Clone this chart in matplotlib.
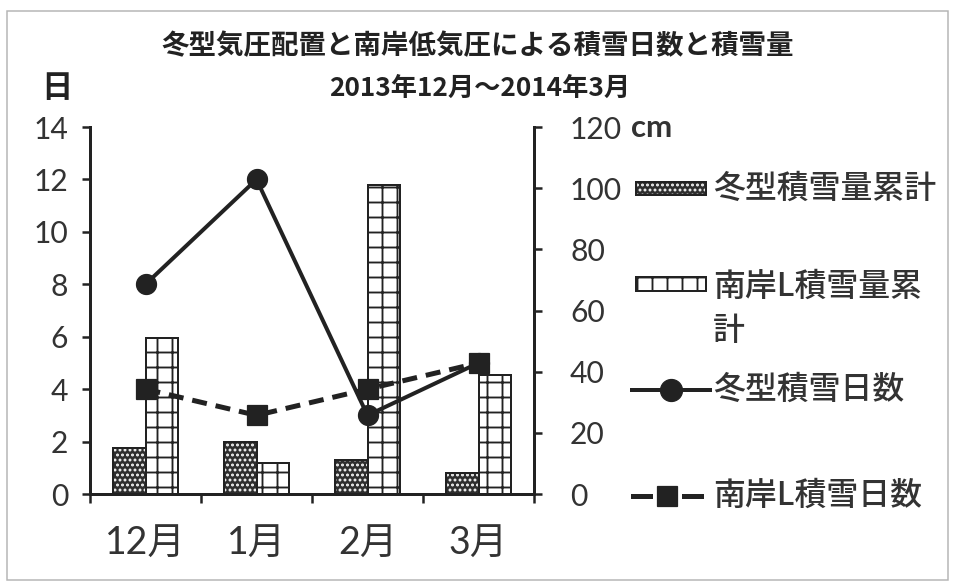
import matplotlib
matplotlib.use("Agg")
import matplotlib.pyplot as plt
from matplotlib.patches import Rectangle
from matplotlib.lines import Line2D

# ---------------- data ----------------
months = ["12月", "1月", "2月", "3月"]
winter_snow_cm = [15, 17, 11, 7]        # 冬型積雪量累計 (cm, right axis)
south_snow_cm = [51, 10, 101, 39]       # 南岸L積雪量累計 (cm, right axis)
winter_days = [8, 12, 3, 5]             # 冬型積雪日数 (days, left axis)
south_days = [4, 3, 4, 5]               # 南岸L積雪日数 (days, left axis)
left_ticks = [0, 2, 4, 6, 8, 10, 12, 14]
right_ticks = [0, 20, 40, 60, 80, 100, 120]

title = "冬型気圧配置と南岸低気圧による積雪日数と積雪量"
subtitle = "2013年12月～2014年3月"
labels = ["冬型積雪量累計", "南岸L積雪量累\n計", "冬型積雪日数", "南岸L積雪日数"]

# ---------------- style ----------------
DPI = 90
W, H = 959, 587
plt.rcParams["font.family"] = ["Lato", "Noto Sans CJK JP", "DejaVu Sans"]
plt.rcParams["hatch.linewidth"] = 1.5
CJK = ["Noto Sans CJK JP", "DejaVu Sans"]
TXT = "#333333"
LINE = "#222222"
DOTFACE = "#2e2e2e"

def px(p):  # pixels -> points
    return p * 72.0 / DPI

def fx(x):
    return x / W

def fy(y):
    return 1 - y / H

fig = plt.figure(figsize=(W / DPI, H / DPI), dpi=DPI)
fig.patch.set_facecolor("white")

# outer light border
fig.add_artist(Rectangle((fx(7), fy(580)), fx(948) - fx(7), fy(11) - fy(580),
                         transform=fig.transFigure, fill=False,
                         edgecolor="#b5b5b5", linewidth=1.2))

ax = fig.add_axes([fx(90), fy(494), fx(534) - fx(90), fy(127) - fy(494)])
ax2 = ax.twinx()
ax.set_zorder(ax2.get_zorder() + 1)
ax.patch.set_visible(False)

x = list(range(len(months)))
bw = 0.29

# bars (right axis, cm)
ax2.bar([i - bw / 2 for i in x], winter_snow_cm, width=bw,
        facecolor=DOTFACE, edgecolor="white", hatch="...", linewidth=0)
ax2.bar([i - bw / 2 for i in x], winter_snow_cm, width=bw,
        fill=False, edgecolor=LINE, linewidth=px(2))
ax2.bar([i + bw / 2 for i in x], south_snow_cm, width=bw,
        facecolor="white", edgecolor=LINE, hatch="+", linewidth=px(2))

# lines (left axis, days)
ax.plot(x, winter_days, color=LINE, lw=px(4), marker="o", ms=px(20),
        zorder=3)
ax.plot(x, south_days, color=LINE, lw=px(5), marker="s", ms=px(20),
        dashes=(3.0, 1.8), zorder=4)

ax.set_xlim(-0.5, 3.5)
ax.set_ylim(0, 14)
ax2.set_ylim(0, 120)
ax.set_yticks(left_ticks)
ax2.set_yticks(right_ticks)

for a in (ax, ax2):
    for s in a.spines.values():
        s.set_visible(False)
ax.spines["left"].set_visible(True)
ax.spines["bottom"].set_visible(True)
ax2.spines["right"].set_visible(True)
for s in (ax.spines["left"], ax.spines["bottom"], ax2.spines["right"]):
    s.set_linewidth(px(3))
    s.set_color(LINE)

ax.tick_params(axis="y", direction="out", length=px(8), width=px(2.5),
               color=LINE, labelsize=24, labelcolor=TXT, pad=px(14))
ax2.tick_params(axis="y", direction="out", length=px(8), width=px(2.5),
                color=LINE, labelsize=24, labelcolor=TXT, pad=px(28))

# category axis: ticks at boundaries, labels at centres
ax.set_xticks([-0.5, 0.5, 1.5, 2.5, 3.5])
ax.set_xticklabels([])
ax.set_xticks(x, minor=True)
ax.set_xticklabels(months, minor=True)
ax.tick_params(axis="x", which="major", direction="out", length=px(9),
               width=px(2.5), color=LINE)
ax.tick_params(axis="x", which="minor", length=0, labelsize=30,
               labelcolor=TXT, pad=px(32))

# titles and unit labels
fig.text(fx(478), fy(46), title, ha="center", va="center", fontsize=22,
         fontweight="bold", color=LINE, family=CJK)
fig.text(fx(480), fy(88), subtitle, ha="center", va="center", fontsize=21,
         fontweight="bold", color=LINE, family=CJK)
fig.text(fx(57), fy(88), "日", ha="center", va="center", fontsize=25,
         fontweight="bold", color=LINE, family=CJK)
fig.text(fx(631), fy(128), "cm", ha="left", va="center", fontsize=25,
         fontweight="bold", color=TXT, family=["Lato", "DejaVu Sans"])

# ---------------- legend (manual) ----------------
tx = fx(713)
lfs = 25.5
lw_txt = "medium"
# entry 1: winter bars
fig.add_artist(Rectangle((fx(636), fy(195)), fx(70), fy(182) - fy(195),
                         transform=fig.transFigure, facecolor=DOTFACE,
                         edgecolor="white", hatch="...", linewidth=0))
fig.add_artist(Rectangle((fx(636), fy(195)), fx(70), fy(182) - fy(195),
                         transform=fig.transFigure, fill=False,
                         edgecolor=LINE, linewidth=px(2)))
fig.text(tx, fy(189), labels[0], ha="left", va="center", fontsize=lfs,
         color=TXT, family=CJK, fontweight=lw_txt)
# entry 2: south bars
fig.add_artist(Rectangle((fx(636), fy(291)), fx(70), fy(277) - fy(291),
                         transform=fig.transFigure, facecolor="white",
                         edgecolor=LINE, hatch="+", linewidth=px(2)))
fig.text(tx, fy(309), labels[1], ha="left", va="center", fontsize=lfs,
         color=TXT, family=CJK, linespacing=1.5, fontweight=lw_txt)
# entry 3: winter days line
fig.add_artist(Line2D([fx(632), fx(710)], [fy(390), fy(390)],
                      transform=fig.transFigure, color=LINE, lw=px(4)))
fig.add_artist(Line2D([fx(671)], [fy(390)], transform=fig.transFigure,
                      color=LINE, marker="o", ms=px(22), lw=0))
fig.text(tx, fy(390), labels[2], ha="left", va="center", fontsize=lfs,
         color=TXT, family=CJK, fontweight=lw_txt)
# entry 4: south days dashed line
fig.add_artist(Line2D([fx(633), fx(650)], [fy(496), fy(496)],
                      transform=fig.transFigure, color=LINE, lw=px(5)))
fig.add_artist(Line2D([fx(684), fx(701)], [fy(496), fy(496)],
                      transform=fig.transFigure, color=LINE, lw=px(5)))
fig.add_artist(Line2D([fx(667)], [fy(496)], transform=fig.transFigure,
                      color=LINE, marker="s", ms=px(20), lw=0))
fig.text(tx, fy(496), labels[3], ha="left", va="center", fontsize=lfs,
         color=TXT, family=CJK, fontweight=lw_txt)

fig.savefig("out.png", dpi=DPI, facecolor="white")
